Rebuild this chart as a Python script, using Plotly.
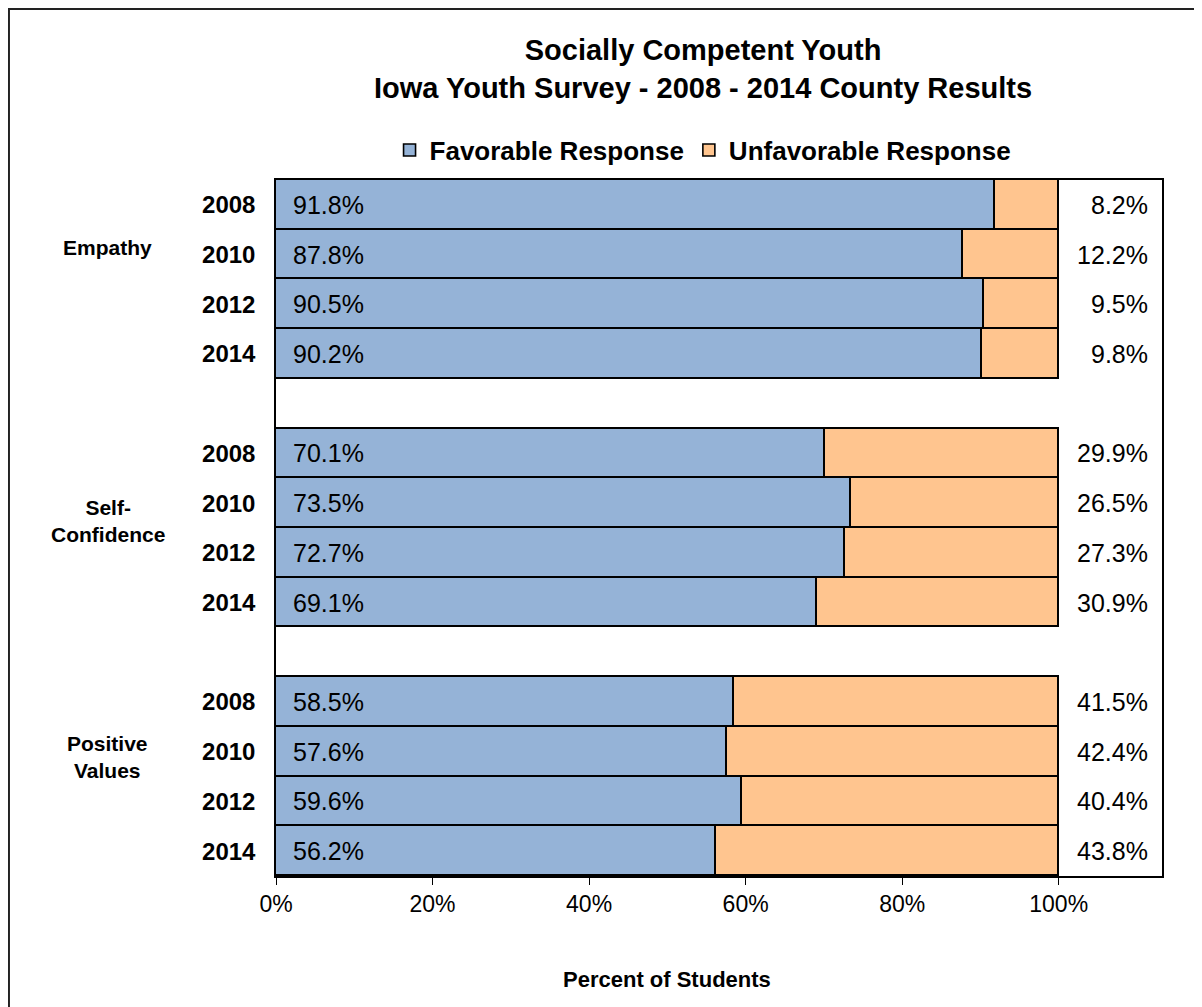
import plotly.graph_objects as go

groups = ["Empathy", "Self-<br>Confidence", "Positive<br>Values"]
years = ["2008", "2010", "2012", "2014"]
favorable = [
    [91.8, 87.8, 90.5, 90.2],
    [70.1, 73.5, 72.7, 69.1],
    [58.5, 57.6, 59.6, 56.2],
]
unfavorable = [
    [8.2, 12.2, 9.5, 9.8],
    [29.9, 26.5, 27.3, 30.9],
    [41.5, 42.4, 40.4, 43.8],
]
group_label_pos = [0.86, 6.35, 11.1]

FONT = "Liberation Sans, Arial, sans-serif"
BLUE = "#95B3D7"
ORANGE = "#FFC58F"

ys, fav, unf, ylabels = [], [], [], []
for g in range(len(groups)):
    for j, yr in enumerate(years):
        ys.append(g * 5 + j)
        fav.append(favorable[g][j] / 100)
        unf.append(unfavorable[g][j] / 100)
        ylabels.append(yr)

fig = go.Figure()
fig.add_trace(go.Bar(y=ys, x=fav, orientation="h", name="<b>Favorable Response</b>",
                     marker=dict(color=BLUE, line=dict(color="black", width=1.6))))
fig.add_trace(go.Bar(y=ys, x=unf, orientation="h", name="<b>Unfavorable Response</b>",
                     marker=dict(color=ORANGE, line=dict(color="black", width=1.6))))

ann = []
for y, f, u in zip(ys, fav, unf):
    ann.append(dict(x=0.019, y=y, xref="x", yref="y", text=f"{f*100:.1f}%",
                    showarrow=False, xanchor="left", yanchor="middle",
                    font=dict(size=25, color="black", family=FONT)))
    ann.append(dict(x=1.117, y=y, xref="x", yref="y", text=f"{u*100:.1f}%",
                    showarrow=False, xanchor="right", yanchor="middle",
                    font=dict(size=25, color="black", family=FONT)))

for g, pos in zip(groups, group_label_pos):
    ann.append(dict(x=-0.19, y=pos, xref="paper", yref="y", text=f"<b>{g}</b>",
                    showarrow=False, xanchor="center", yanchor="middle",
                    font=dict(size=21, color="black", family=FONT)))

# title
ann.append(dict(x=0.482, y=1.159, xref="paper", yref="paper",
                text="<b>Socially Competent Youth<br>Iowa Youth Survey - 2008 - 2014 County Results</b>",
                showarrow=False, xanchor="center", yanchor="middle",
                font=dict(size=29, color="black", family=FONT)))
# x axis title
ann.append(dict(x=0.5, y=-0.149, xref="x", yref="paper", text="<b>Percent of Students</b>",
                showarrow=False, xanchor="center", yanchor="middle",
                font=dict(size=22, color="black", family=FONT)))

fig.update_layout(
    width=1202, height=1007,
    margin=dict(l=268, r=48, t=172, b=139),
    barmode="stack", bargap=0,
    plot_bgcolor="white", paper_bgcolor="white",
    font=dict(family=FONT, color="black"),
    annotations=ann,
    legend=dict(orientation="h", x=0.482, xanchor="center", y=1.043, yanchor="middle",
                font=dict(size=26, family=FONT), itemwidth=30, traceorder="normal",
                tracegroupgap=0),
    shapes=[dict(type="rect", xref="paper", yref="paper",
                 x0=-0.3014, x1=1.06, y0=-0.21, y1=1.2457,
                 line=dict(color="#222", width=2))],
)

fig.update_xaxes(range=[0, 1.132], tickvals=[0, 0.2, 0.4, 0.6, 0.8, 1.0],
                 tickformat=".0%", ticks="outside", ticklen=7, tickcolor="black",
                 tickfont=dict(size=23, family=FONT), showgrid=False, zeroline=False,
                 showline=True, linecolor="black", linewidth=1.5, mirror=True)
fig.update_yaxes(range=[13.5, -0.5], tickvals=ys, ticktext=[f"<b>{t}</b>" for t in ylabels],
                 tickfont=dict(size=24, family=FONT), ticks="", ticklabelstandoff=14,
                 showgrid=False, zeroline=False,
                 showline=True, linecolor="black", linewidth=1.5, mirror=True)

fig.write_html("out.html")
